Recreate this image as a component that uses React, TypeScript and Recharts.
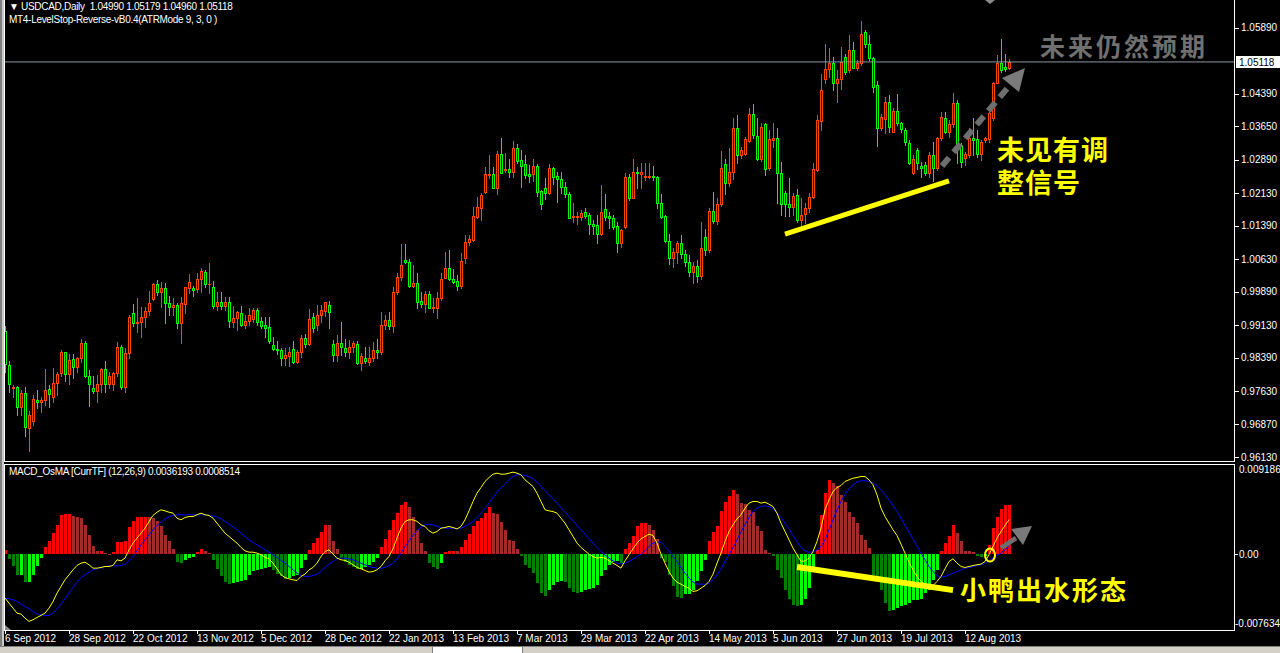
import React from 'react';
import { ComposedChart, Bar, Line, XAxis, YAxis, ReferenceLine } from 'recharts';

// USDCAD daily, prices in pips (x 1e-4)
const OPEN = [9900,9822,9771,9772,9726,9759,9678,9696,9742,9738,
9742,9767,9750,9781,9803,9851,9801,9835,9818,9839,
9872,9798,9769,9764,9778,9813,9780,9780,9803,9863,
9773,9849,9940,9917,9919,9931,9945,9972,10006,9988,
9997,9963,9954,9959,9917,9960,9997,9997,9995,10017,
10033,10006,10000,9957,9965,9957,9965,9919,9930,9940,
9913,9922,9927,9947,9922,9913,9909,9868,9859,9856,
9839,9843,9858,9828,9851,9883,9869,9932,9913,9936,
9945,9959,9869,9845,9872,9860,9853,9863,9869,9826,
9838,9830,9838,9856,9851,9913,9925,9912,9988,10022,
10061,10056,10003,10008,9968,9960,9983,9951,9953,9974,
10021,10042,10017,10013,10003,10066,10101,10107,10160,10180,
10215,10255,10256,10224,10302,10266,10268,10262,10315,10289,
10279,10257,10256,10275,10218,10224,10213,10270,10252,10245,
10227,10211,10160,10160,10160,10170,10164,10143,10141,10120,
10177,10161,10157,10139,10099,10137,10251,10203,10262,10257,
10251,10251,10253,10251,10192,10161,10104,10066,10079,10099,
10075,10057,10034,10048,10025,10114,10084,10173,10151,10188,
10279,10236,10262,10362,10300,10302,10332,10393,10344,10291,
10370,10270,10335,10338,10258,10213,10188,10182,10209,10152,
10165,10179,10205,10266,10377,10473,10495,10509,10465,10473,
10522,10493,10539,10497,10509,10579,10552,10520,10459,10361,
10382,10421,10353,10400,10372,10357,10327,10258,10311,10275,
10277,10258,10300,10271,10339,10384,10353,10370,10418,10323,
10293,10300,10338,10336,10302,10334,10336,10384,10465,10509,
10501,10499];

const HIGH = [9911,9831,9777,9775,9765,9772,9718,9754,9765,9750,
9813,9777,9815,9807,9856,9851,9847,9847,9841,9881,
9877,9811,9798,9800,9815,9831,9807,9807,9874,9868,
9860,9936,9960,9974,9954,9955,9991,10008,10016,10010,
10008,9980,9974,9963,9978,9999,10029,10002,10031,10042,
10038,10054,10013,9988,9988,9978,9978,9957,9945,9957,
9936,9951,9951,9951,9932,9932,9932,9887,9877,9862,
9860,9864,9877,9856,9891,9892,9950,9940,9959,9959,
9966,9968,9879,9891,9921,9881,9879,9877,9877,9849,
9863,9863,9874,9881,9942,9936,9942,10000,10031,10098,
10098,10063,10050,10031,9988,9991,9991,9975,9989,10031,
10080,10084,10041,10027,10076,10118,10118,10182,10205,10213,
10273,10300,10273,10309,10338,10304,10291,10332,10324,10311,
10300,10277,10291,10279,10220,10248,10279,10273,10261,10261,
10239,10217,10190,10170,10175,10180,10167,10152,10164,10232,
10211,10170,10164,10147,10132,10258,10256,10291,10273,10281,
10281,10281,10276,10253,10211,10164,10120,10088,10104,10117,
10084,10073,10057,10061,10148,10132,10179,10215,10202,10309,
10291,10317,10384,10390,10319,10342,10406,10415,10384,10372,
10372,10357,10374,10362,10285,10218,10247,10213,10223,10203,
10190,10213,10281,10391,10484,10552,10543,10524,10493,10546,
10529,10573,10558,10516,10605,10584,10573,10524,10468,10393,
10433,10437,10408,10438,10376,10361,10334,10300,10317,10285,
10285,10306,10330,10342,10397,10399,10380,10440,10425,10327,
10308,10361,10384,10357,10334,10342,10399,10467,10527,10564,
10529,10517.9];

const LOW = [9806,9761,9750,9709,9709,9661,9627,9686,9724,9716,
9731,9727,9739,9754,9798,9786,9778,9793,9807,9830,
9796,9730,9758,9739,9762,9760,9769,9765,9798,9768,
9760,9838,9912,9897,9885,9909,9936,9970,9982,9955,
9917,9936,9936,9907,9872,9940,9985,9980,9988,9989,
10000,9985,9951,9947,9949,9947,9909,9909,9902,9911,
9907,9913,9921,9913,9906,9887,9872,9856,9847,9822,
9822,9821,9826,9826,9841,9864,9868,9898,9902,9921,
9934,9906,9831,9831,9845,9843,9839,9853,9825,9811,
9826,9822,9832,9839,9847,9904,9904,9898,9984,10016,
10054,10000,10000,9953,9955,9944,9951,9944,9929,9970,
10020,10016,10008,9993,9997,10054,10095,10104,10156,10152,
10213,10247,10224,10211,10258,10262,10251,10251,10281,10228,
10248,10239,10241,10207,10177,10200,10211,10233,10194,10214,
10205,10156,10147,10142,10152,10156,10120,10120,10099,10118,
10152,10135,10132,10079,10091,10133,10198,10202,10224,10226,
10243,10247,10243,10180,10156,10103,10051,10046,10054,10066,
10048,10025,10009,10011,10018,10073,10079,10145,10142,10185,
10211,10230,10245,10281,10294,10300,10330,10339,10289,10286,
10255,10266,10319,10192,10164,10162,10162,10164,10148,10141,
10145,10171,10203,10264,10357,10463,10478,10448,10420,10450,
10484,10488,10497,10493,10505,10546,10516,10444,10321,10357,
10349,10352,10353,10368,10352,10323,10279,10256,10268,10251,
10255,10251,10241,10266,10334,10349,10342,10364,10281,10273,
10277,10296,10300,10296,10289,10330,10330,10380,10463,10490,
10491,10496];

const CLOSE = [9824,9780,9773,9726,9759,9681,9709,9744,9737,9743,
9765,9757,9781,9802,9851,9801,9833,9818,9838,9872,
9798,9780,9764,9778,9813,9780,9797,9803,9863,9773,
9849,9931,9917,9920,9931,9945,9963,10006,9988,9997,
9963,9954,9959,9917,9963,9999,10010,9992,10018,10036,
10006,10007,9957,9965,9957,9965,9923,9929,9942,9913,
9922,9937,9947,9921,9912,9907,9878,9859,9857,9839,
9845,9853,9828,9853,9883,9869,9927,9906,9936,9947,
9965,9944,9845,9872,9864,9853,9863,9872,9826,9843,
9832,9838,9856,9853,9913,9925,9912,9989,10022,10050,
10056,10003,10009,9966,9960,9983,9951,9955,9974,10018,
10042,10017,10012,10003,10059,10101,10109,10161,10182,10209,
10256,10256,10224,10302,10260,10268,10262,10315,10287,10276,
10255,10253,10275,10217,10189,10213,10270,10251,10245,10227,
10211,10157,10161,10162,10167,10162,10142,10139,10120,10170,
10160,10157,10137,10099,10129,10251,10203,10261,10260,10261,
10253,10253,10251,10192,10160,10104,10066,10079,10099,10074,
10057,10034,10048,10025,10089,10084,10173,10151,10188,10271,
10236,10261,10361,10300,10311,10337,10393,10346,10291,10364,
10268,10337,10338,10258,10188,10188,10182,10207,10152,10164,
10179,10205,10268,10380,10448,10495,10509,10465,10473,10511,
10490,10539,10499,10509,10575,10552,10521,10455,10361,10387,
10420,10364,10400,10372,10359,10329,10281,10291,10281,10271,
10258,10300,10271,10339,10387,10353,10370,10418,10323,10285,
10302,10338,10334,10302,10330,10339,10395,10465,10509,10493,
10496,10511.8];

// MACD_OsMA pane, values x 1e-5
const OSMA = [48,-48,-118,-211,-211,-287,-287,-211,-118,-38,
73,145,221,308,412,419,422,398,388,380,
301,204,83,38,38,14,10,24,128,128,
135,284,343,384,386,390,386,380,343,291,
204,135,59,-73,-90,-62,-38,-28,24,59,
38,14,-62,-149,-228,-287,-308,-298,-287,-273,
-263,-211,-176,-159,-149,-142,-125,-159,-204,-228,
-253,-246,-228,-211,-142,-62,48,118,176,232,
311,304,145,59,-38,-73,-107,-125,-149,-149,
-135,-107,-73,-38,73,163,256,360,429,516,
550,498,394,256,118,38,-90,-125,-149,-90,
24,38,38,31,73,152,211,291,343,377,
429,488,429,419,336,256,152,135,59,-21,
-107,-142,-194,-298,-401,-436,-367,-315,-287,-280,
-287,-349,-391,-401,-391,-367,-360,-343,-322,-228,
-159,-114,-73,-66,-90,59,118,197,291,325,
325,308,249,163,-38,-73,-211,-332,-446,-450,
-412,-412,-367,-280,-176,-55,135,232,291,453,
550,602,671,630,533,522,464,439,291,246,
48,14,-21,-159,-246,-367,-460,-522,-540,-522,
-460,-343,-159,48,412,637,775,740,706,619,
550,446,394,325,204,152,66,-211,-280,-367,
-505,-592,-574,-557,-540,-529,-505,-471,-471,-460,
-401,-367,-263,-159,38,118,197,301,221,135,
38,31,24,-21,-24,-17,100,273,394,474,
509,509];

const MACD = [-453,-505,-557,-609,-619,-661,-695,-678,-654,-633,
-609,-557,-488,-401,-332,-263,-211,-159,-114,-90,
-80,-107,-142,-142,-135,-125,-125,-114,-55,-66,
-38,48,118,170,221,273,343,405,439,464,
453,439,429,377,360,384,394,394,412,429,
412,405,377,325,273,221,187,152,118,73,
38,24,24,14,-3,-28,-45,-90,-149,-211,
-239,-253,-263,-270,-228,-204,-159,-135,-90,-21,
31,48,3,-38,-55,-62,-80,-107,-135,-149,
-166,-183,-177,-159,-125,-66,-21,59,170,273,
343,360,360,343,308,291,246,221,239,273,
280,291,280,266,291,360,453,550,637,695,
758,799,834,844,834,834,844,855,844,827,
775,740,706,637,550,464,453,446,429,377,
325,256,187,118,73,38,3,-21,-38,-31,
-38,-66,-90,-114,-142,-66,-3,59,118,163,
187,211,197,118,3,-90,-177,-246,-287,-308,
-332,-350,-384,-377,-350,-322,-280,-204,-90,14,
135,239,308,370,412,481,533,550,550,533,
543,522,498,429,325,239,152,66,-3,-73,
-66,-38,31,135,273,464,567,654,695,716,
758,775,792,799,810,810,775,723,619,481,
394,325,256,197,107,14,-80,-159,-228,-280,
-308,-315,-322,-280,-228,-149,-73,-45,-90,-125,
-135,-125,-114,-107,-100,-73,-3,83,170,239,
301,361.93];

const SIGNAL = [-453,-460,-471,-488,-516,-540,-564,-592,-619,-626,
-633,-633,-609,-564,-516,-460,-401,-343,-287,-239,
-211,-183,-159,-149,-135,-125,-118,-118,-118,-114,
-100,-66,-21,38,100,152,204,256,301,336,
370,391,405,412,412,412,412,412,412,412,
412,405,401,388,370,343,315,287,256,221,
187,152,125,100,73,48,24,-3,-31,-62,
-90,-125,-159,-194,-218,-228,-228,-218,-204,-177,
-135,-100,-73,-45,-38,-38,-45,-55,-73,-90,
-107,-125,-135,-142,-142,-135,-114,-90,-45,14,
83,142,197,246,280,308,315,308,291,280,
273,273,273,266,273,291,315,343,384,429,
481,533,592,647,689,730,775,810,827,827,
820,810,785,751,706,661,619,578,533,488,
439,394,349,301,256,211,163,118,73,31,
-3,-38,-66,-90,-100,-90,-73,-48,-21,3,
38,83,118,128,128,83,38,-21,-73,-135,
-194,-246,-287,-308,-308,-308,-298,-263,-211,-149,
-73,-3,73,152,232,308,384,446,481,498,
505,498,474,429,384,325,266,197,135,73,
38,24,24,48,83,152,256,360,464,550,
626,682,723,751,765,765,758,740,716,671,
619,567,508,446,377,301,232,163,83,14,
-55,-125,-177,-218,-239,-228,-211,-194,-177,-159,
-142,-135,-125,-114,-107,-90,-66,-38,-10,14,
48,85.14];

const TICK_BARS = [0, 16, 32, 48, 64, 80, 96, 112, 128, 144, 160, 176, 192, 208, 224, 240];
const TICK_LABELS = ['6 Sep 2012', '28 Sep 2012', '22 Oct 2012', '13 Nov 2012', '5 Dec 2012', '28 Dec 2012',
  '22 Jan 2013', '13 Feb 2013', '7 Mar 2013', '29 Mar 2013', '22 Apr 2013', '14 May 2013', '5 Jun 2013',
  '27 Jun 2013', '19 Jul 2013', '12 Aug 2013'];

const PRICE_TICKS = [1.0589, 1.0439, 1.0365, 1.0289, 1.0213, 1.0139, 1.0063, 0.9989, 0.9913, 0.9839, 0.9763, 0.9687, 0.9613];
const PRICE_DOMAIN = [0.96039, 1.06527];
const MACD_TICKS = [0.009186, 0, -0.007634];
const MACD_TICK_LABELS = ['0.009186', '0.00', '-0.007634'];

// hand-drawn trend lines (bar index, value)
const PRICE_TREND = [{ x: 195, y: 1.012 }, { x: 236, y: 1.0241 }];
const MACD_TREND = [{ x: 198, y: -0.0013 }, { x: 237, y: -0.0037 }];

const UP = '#ff4500';
const DOWN = '#00ff00';
const SLOTS = 308; // bars + empty shift area on the right
const FONT = '"Liberation Sans", Arial, sans-serif';
const CJK = '"Noto Sans CJK SC", sans-serif';

const last = CLOSE.length - 1;
const lastClose = CLOSE[last] / 1e4;

const rows = Array.from({ length: SLOTS }, (_, i) => {
  if (i > last) return { i };
  const o = OPEN[i] / 1e4, h = HIGH[i] / 1e4, l = LOW[i] / 1e4, c = CLOSE[i] / 1e4;
  return {
    i, o, h, l, c,
    range: [Math.min(l, o, c), Math.max(h, o, c)],
    osma: OSMA[i] / 1e5,
    prev: i > 0 ? OSMA[i - 1] / 1e5 : null,
    macd: MACD[i] / 1e5,
    signal: SIGNAL[i] / 1e5,
  };
});

const Candle = (props: any) => {
  const { x, y, width, height, payload } = props;
  if (!payload || payload.o == null) return <g />;
  const { o, c } = payload;
  const [lo, hi] = payload.range;
  const top = Math.min(y, y + height);
  const hgt = Math.abs(height);
  const span = hi - lo;
  const py = (v: number) => (span > 0 ? top + ((hi - v) / span) * hgt : top);
  const cx = Math.round(x + width / 2);
  const color = c > o ? UP : DOWN;
  const bTop = Math.round(py(Math.max(o, c)));
  const bBot = Math.round(py(Math.min(o, c)));
  return (
    <g>
      <line x1={cx + 0.5} x2={cx + 0.5} y1={Math.round(top)} y2={Math.round(top + hgt) + 1} stroke={color} />
      {bBot - bTop >= 1 ? (
        <rect x={cx - 0.5} y={bTop + 0.5} width={2} height={bBot - bTop} fill="#000" stroke={color} />
      ) : (
        <line x1={cx - 1} x2={cx + 2} y1={bTop + 0.5} y2={bTop + 0.5} stroke={color} />
      )}
    </g>
  );
};

const OsmaBar = (props: any) => {
  const { x, y, width, height, payload } = props;
  if (!payload || payload.osma == null) return <g />;
  const v = payload.osma;
  const rising = payload.prev == null || v >= payload.prev;
  const fill = v >= 0 ? (rising ? '#ff0000' : '#a52a2a') : (rising ? '#00ff00' : '#008000');
  const top = Math.round(Math.min(y, y + height));
  const bot = Math.round(Math.max(y, y + height));
  const cx = Math.round(x + width / 2);
  return <rect x={cx - 1} y={top} width={3} height={Math.max(bot - top, 1)} fill={fill} />;
};

const PriceTick = (props: any) => {
  const { y, payload } = props;
  const yy = Math.round(y) + 0.5;
  return (
    <g>
      <line x1={1235} x2={1239} y1={yy} y2={yy} stroke="#fff" />
      <text x={1241} y={y + 3.5} fill="#fff" fontSize={10} fontFamily={FONT}>{payload.value.toFixed(5)}</text>
    </g>
  );
};

const MacdTick = (props: any) => {
  const { y, payload } = props;
  const k = MACD_TICKS.indexOf(payload.value);
  const dy = payload.value > 0 ? 7 : payload.value < 0 ? -1.5 : 3.5;
  return (
    <g>
      {payload.value === 0 && <line x1={1235} x2={1238} y1={Math.round(y) + 0.5} y2={Math.round(y) + 0.5} stroke="#fff" />}
      <text x={payload.value < 0 ? 1235 : 1239} y={y + dy} fill="#fff" fontSize={10} fontFamily={FONT}>{MACD_TICK_LABELS[k]}</text>
    </g>
  );
};

const DateTick = (props: any) => {
  const { x, payload } = props;
  const k = TICK_BARS.indexOf(payload.value);
  return (
    <g>
      <line x1={x + 0.5} x2={x + 0.5} y1={166} y2={170} stroke="#fff" />
      <text x={x} y={178} fill="#fff" fontSize={10} fontFamily={FONT}>{TICK_LABELS[k]}</text>
    </g>
  );
};

const PriceTag = (props: any) => {
  const y = Math.round(props.viewBox?.y ?? 0);
  return (
    <g>
      <rect x={1236} y={y - 6} width={44} height={12} fill="#fff" />
      <text x={1239} y={y + 4} fill="#000" fontSize={10} fontFamily={FONT}>{lastClose.toFixed(5)}</text>
    </g>
  );
};

const fmt5 = (v: number) => (v / 1e4).toFixed(5);

export default function App() {
  const header = `\u25BC USDCAD,Daily  ${fmt5(OPEN[last])} ${fmt5(HIGH[last])} ${fmt5(LOW[last])} ${fmt5(CLOSE[last])}`;
  const macdHeader = `MACD_OsMA [CurrTF] (12,26,9) ${(MACD[last] / 1e5).toFixed(7)} ${(SIGNAL[last] / 1e5).toFixed(7)}`;
  const txt: React.CSSProperties = { position: 'absolute', color: '#fff', fontSize: 10, fontFamily: FONT, whiteSpace: 'pre', lineHeight: '12px', letterSpacing: -0.3 };
  const cjk: React.CSSProperties = { position: 'absolute', fontFamily: CJK, fontWeight: 700, whiteSpace: 'pre' };

  return (
    <div style={{ position: 'absolute', left: 0, top: 0, width: 1280, height: 653, background: '#000', overflow: 'hidden' }}>
      <div style={{ position: 'absolute', left: 0, top: 0 }}>
        <ComposedChart width={1280} height={464} data={rows} margin={{ top: 0, right: 0, bottom: 3, left: 3 }}>
          <XAxis dataKey="i" hide />
          <YAxis orientation="right" width={45} type="number" domain={PRICE_DOMAIN} allowDataOverflow
            ticks={PRICE_TICKS} interval={0} tick={<PriceTick />} axisLine={false} tickLine={false} />
          <ReferenceLine y={lastClose} stroke="#8a98a6" label={<PriceTag />} />
          <Bar dataKey="range" isAnimationActive={false} shape={(p: any) => <Candle {...p} />} />
          <ReferenceLine segment={PRICE_TREND} stroke="#ffff00" strokeWidth={5} />
        </ComposedChart>
      </div>

      <div style={{ position: 'absolute', left: 0, top: 464 }}>
        <ComposedChart width={1280} height={189} data={rows} margin={{ top: 2, right: 0, bottom: 0, left: 3 }}>
          <XAxis dataKey="i" height={25} ticks={TICK_BARS} interval={0} tick={<DateTick />} axisLine={false} tickLine={false} />
          <YAxis orientation="right" width={45} type="number" domain={[-0.007634, 0.009186]} allowDataOverflow
            ticks={MACD_TICKS} interval={0} tick={<MacdTick />} axisLine={false} tickLine={false} />
          <Bar dataKey="osma" isAnimationActive={false} shape={(p: any) => <OsmaBar {...p} />} />
          <Line dataKey="signal" type="linear" stroke="#0000ff" strokeWidth={1} dot={false} activeDot={false} isAnimationActive={false} />
          <Line dataKey="macd" type="linear" stroke="#ffff00" strokeWidth={1} dot={false} activeDot={false} isAnimationActive={false} />
          <ReferenceLine segment={MACD_TREND} stroke="#ffff00" strokeWidth={6} />
        </ComposedChart>
      </div>

      <svg width={1280} height={653} style={{ position: 'absolute', left: 0, top: 0, pointerEvents: 'none' }}>
        {/* window edge and pane frames */}
        <rect x={0} y={0} width={2} height={646} fill="#808080" />
        <rect x={2} y={0} width={2} height={646} fill="#c8c8c8" />
        <g stroke="#fff" strokeWidth={1}>
          <line x1={4.5} x2={4.5} y1={0} y2={462} />
          <line x1={1234.5} x2={1234.5} y1={0} y2={462} />
          <line x1={4} x2={1235} y1={461.5} y2={461.5} />
          <line x1={4.5} x2={4.5} y1={464} y2={631} />
          <line x1={1234.5} x2={1234.5} y1={464} y2={631} />
          <line x1={4} x2={1235} y1={464.5} y2={464.5} />
          <line x1={4} x2={1235} y1={630.5} y2={630.5} />
        </g>
        <polygon points="985,0 995,0 990,4" fill="#8a8a8a" />
        <polygon points="5,625 5,630 11,630" fill="#8a8a8a" />

        {/* dashed grey arrow, price pane */}
        <line x1={942} y1={166} x2={1010} y2={85} stroke="#6e6e6e" strokeWidth={6} strokeDasharray="11 7" />
        <polygon points="1025,68 1002,78 1019,92" fill="#7a7a7a" />

        {/* oscillator pane marks */}
        <ellipse cx={990} cy={555} rx={5} ry={6.5} fill="none" stroke="#ffff00" strokeWidth={2} />
        <line x1={1001} y1={548} x2={1016} y2={538} stroke="#6e6e6e" strokeWidth={5} />
        <polygon points="1032,526 1011,529 1023,545" fill="#7a7a7a" />

        {/* status strip */}
        <rect x={0} y={646} width={1280} height={7} fill="#d4d0c8" />
        <line x1={0} x2={1280} y1={646.5} y2={646.5} stroke="#808080" />
        <rect x={432} y={647} width={91} height={6} fill="#ffffff" />
        <line x1={432.5} x2={432.5} y1={647} y2={653} stroke="#808080" />
        <line x1={522.5} x2={522.5} y1={647} y2={653} stroke="#808080" />
      </svg>

      <div style={{ ...txt, left: 9, top: 1 }}>{header}</div>
      <div style={{ ...txt, left: 9, top: 14 }}>MT4-LevelStop-Reverse-vB0.4(ATRMode 9, 3, 0 )</div>
      <div style={{ ...txt, left: 9, top: 466 }}>{macdHeader}</div>

      <div style={{ ...cjk, left: 1040, top: 30, fontSize: 25, letterSpacing: 3, color: '#707070', lineHeight: '30px' }}>未来仍然预期</div>
      <div style={{ ...cjk, left: 997, top: 135, fontSize: 27, letterSpacing: 1, color: '#ffff00', lineHeight: '28px' }}>未见有调</div>
      <div style={{ ...cjk, left: 997, top: 168, fontSize: 27, letterSpacing: 1, color: '#ffff00', lineHeight: '28px' }}>整信号</div>
      <div style={{ ...cjk, left: 960, top: 574, fontSize: 26, letterSpacing: 2, color: '#ffff00', lineHeight: '30px' }}>小鸭出水形态</div>
    </div>
  );
}
